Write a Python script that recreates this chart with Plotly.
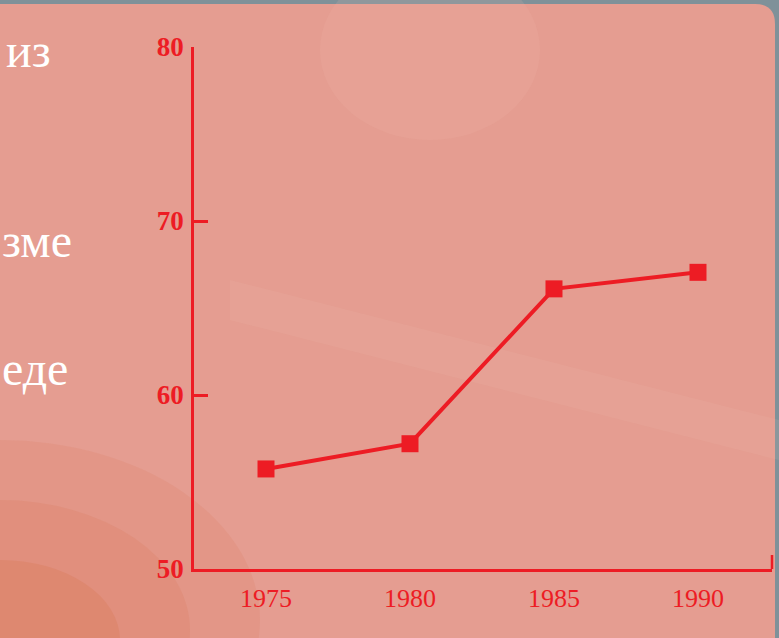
import plotly.graph_objects as go

years = [1975, 1980, 1985, 1990]
values = [55.75, 57.2, 66.1, 67.05]
y_ticks = [50, 60, 70, 80]
x_ticks = [1975, 1980, 1985, 1990]
side_text = ["из", "зме", "еде"]

RED = "#ED1C24"

# pixel -> paper helpers for decoration only
L, R, T, B = 194, 7, 47, 69
W, H = 779, 638
def px(x):
    return (x - L) / (W - L - R)
def py(y):
    return (H - B - y) / (H - T - B)

fig = go.Figure()
fig.add_trace(go.Scatter(
    x=years, y=values, mode="lines+markers",
    line=dict(color=RED, width=4),
    marker=dict(symbol="square", size=17, color=RED),
    hoverinfo="skip", showlegend=False,
))

r = 20
pink_path = (
    f"M {px(-5)},{py(4)} L {px(775 - r)},{py(4)} "
    f"Q {px(775)},{py(4)} {px(775)},{py(4 + r)} "
    f"L {px(775)},{py(645)} L {px(-5)},{py(645)} Z"
)

shapes = [
    dict(type="path", xref="paper", yref="paper", path=pink_path,
         fillcolor="#E59D91", line_width=0, layer="below"),
    # lighter area top middle
    dict(type="circle", xref="paper", yref="paper", x0=px(320), x1=px(540), y0=py(140), y1=py(-40),
         fillcolor="rgba(240,190,175,0.15)", line_width=0, layer="below"),
    # light diagonal streak
    dict(type="path", xref="paper", yref="paper",
         path=f"M {px(230)},{py(280)} L {px(779)},{py(420)} L {px(779)},{py(460)} L {px(230)},{py(320)} Z",
         fillcolor="rgba(242,195,180,0.12)", line_width=0, layer="below"),
    # orange bottom-left, soft layers
    dict(type="circle", xref="paper", yref="paper", x0=px(-260), x1=px(260), y0=py(800), y1=py(440),
         fillcolor="rgba(214,108,64,0.12)", line_width=0, layer="below"),
    dict(type="circle", xref="paper", yref="paper", x0=px(-190), x1=px(190), y0=py(760), y1=py(500),
         fillcolor="rgba(214,108,64,0.14)", line_width=0, layer="below"),
    dict(type="circle", xref="paper", yref="paper", x0=px(-120), x1=px(120), y0=py(720), y1=py(560),
         fillcolor="rgba(212,105,55,0.18)", line_width=0, layer="below"),
    # end tick on x axis
    dict(type="line", xref="paper", yref="paper", x0=1, x1=1, y0=0, y1=py(555),
         line=dict(color=RED, width=2.5)),
]

annotations = []
for txt, ypx, xpos, anchor in zip(side_text, [50, 240, 368], [53, 0, 0], ["right", "left", "left"]):
    annotations.append(dict(
        text=txt, xref="paper", yref="paper",
        x=px(xpos), y=py(ypx),
        xanchor=anchor, yanchor="middle", showarrow=False,
        font=dict(family="Liberation Serif", size=48, color="white"),
    ))

fig.update_layout(
    width=W, height=H,
    margin=dict(l=L, r=R, t=T, b=B),
    paper_bgcolor="#7F9199",
    plot_bgcolor="rgba(0,0,0,0)",
    shapes=shapes,
    annotations=annotations,
    xaxis=dict(
        range=[1972.5, 1992.57], showgrid=False, zeroline=False,
        showline=True, linecolor=RED, linewidth=2.5,
        tickvals=x_ticks, ticktext=[str(v) for v in x_ticks],
        ticks="", ticklabelstandoff=4,
        tickfont=dict(family="Liberation Serif", size=26, color=RED),
    ),
    yaxis=dict(
        range=[50, 80], showgrid=False, zeroline=False,
        showline=True, linecolor=RED, linewidth=2.5,
        tickvals=y_ticks, ticks="inside", ticklen=14, tickwidth=2.5, tickcolor=RED,
        ticklabelstandoff=2,
        tickfont=dict(family="Liberation Serif", size=27, color=RED, weight="bold"),
    ),
)

fig.write_html("out.html", config={"displayModeBar": False},
               post_script="document.body.style.margin='0';")
